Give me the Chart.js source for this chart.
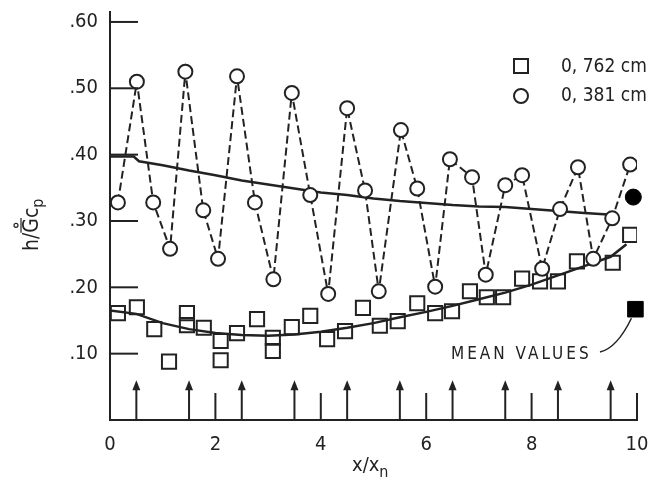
<!DOCTYPE html>
<html>
<head>
<meta charset="utf-8">
<script src="https://cdn.jsdelivr.net/npm/chart.js@4.4.1/dist/chart.umd.min.js"></script>
<style>
  body { margin: 0; background: #fff; }
</style>
</head>
<body>
<canvas id="heatChart" width="652" height="485"></canvas>
<script>
// ---- data ----
var circleX = [0.15, 0.51, 0.82, 1.14, 1.43, 1.77, 2.05, 2.41, 2.75, 3.10, 3.45, 3.80, 4.14, 4.50, 4.84,
               5.10, 5.52, 5.83, 6.17, 6.45, 6.87, 7.13, 7.50, 7.82, 8.20, 8.54, 8.88, 9.17, 9.53, 9.87];
var circleY = [0.328, 0.510, 0.328, 0.258, 0.525, 0.316, 0.243, 0.518, 0.328, 0.212, 0.493, 0.339, 0.190, 0.470, 0.346,
               0.194, 0.437, 0.349, 0.201, 0.393, 0.366, 0.219, 0.354, 0.369, 0.228, 0.318, 0.381, 0.243, 0.304, 0.385];

var squareX = [0.15, 0.51, 0.84, 1.12, 1.46, 1.46, 1.78, 2.10, 2.10, 2.41, 2.79, 3.09, 3.09, 3.45, 3.80, 4.12,
               4.46, 4.80, 5.12, 5.46, 5.83, 6.17, 6.49, 6.83, 7.15, 7.46, 7.82, 8.16, 8.50, 8.86, 9.54, 9.87];
var squareY = [0.161, 0.170, 0.137, 0.088, 0.161, 0.143, 0.139, 0.119, 0.090, 0.131, 0.152, 0.124, 0.104, 0.140, 0.157, 0.122,
               0.134, 0.169, 0.142, 0.149, 0.176, 0.161, 0.164, 0.194, 0.185, 0.185, 0.213, 0.209, 0.209, 0.239, 0.237, 0.279];

// solid mean curves
var circleFitX = [0, 0.45, 0.55, 1, 1.5, 2, 2.5, 3, 3.5, 4, 4.5, 5, 5.5, 6, 6.5, 7, 7.5, 8, 8.5, 9, 9.6];
var circleFitY = [0.397, 0.397, 0.390, 0.384, 0.376, 0.369, 0.361, 0.355, 0.349, 0.343, 0.339, 0.334, 0.330,
                  0.327, 0.324, 0.322, 0.321, 0.318, 0.315, 0.312, 0.309];
var squareFitX = [0, 0.5, 1, 1.5, 2, 2.5, 3, 3.5, 4, 4.5, 5, 5.5, 6, 6.5, 7, 7.5, 8, 8.5, 9, 9.5, 9.8];
var squareFitY = [0.165, 0.160, 0.146, 0.137, 0.131, 0.128, 0.127, 0.129, 0.133, 0.139, 0.146, 0.155, 0.163,
                  0.172, 0.182, 0.192, 0.204, 0.218, 0.232, 0.246, 0.265];

// mean values (filled markers)
var meanCircle = [9.93, 0.336];
var meanSquare = [9.97, 0.167];

var arrowX = [0.5, 1.5, 2.5, 3.5, 4.5, 5.5, 6.5, 7.5, 8.5, 9.5];
var yTicks = [0.1, 0.2, 0.3, 0.4, 0.5, 0.6];
var xTicks = [0, 2, 4, 6, 8, 10];
var legendLabels = ['0, 762 cm', '0, 381 cm'];

function toPoints(xs, ys) {
    return xs.map(function (x, i) { return { x: x, y: ys[i] }; });
}

var INK = '#222';
var FONT = '"DejaVu Sans Condensed", "Liberation Sans Narrow", sans-serif';

// extra drawing: inner ticks, arrows, legend, labels
var decorations = {
    id: 'decorations',
    afterDraw: function (chart) {
        var ctx = chart.ctx;
        var xs = chart.scales.x, ys = chart.scales.y;
        var area = chart.chartArea;
        ctx.save();
        ctx.strokeStyle = INK;
        ctx.fillStyle = INK;
        ctx.lineWidth = 2;

        // y inner ticks
        yTicks.forEach(function (v) {
            var py = ys.getPixelForValue(v);
            ctx.beginPath();
            ctx.moveTo(area.left, py);
            ctx.lineTo(area.left + 28, py);
            ctx.stroke();
        });
        // x inner ticks
        xTicks.slice(1).forEach(function (v) {
            var px = xs.getPixelForValue(v);
            ctx.beginPath();
            ctx.moveTo(px, area.bottom);
            ctx.lineTo(px, area.bottom - 27);
            ctx.stroke();
        });
        // arrows
        arrowX.forEach(function (v) {
            var px = xs.getPixelForValue(v);
            var top = ys.getPixelForValue(0.057);
            ctx.beginPath();
            ctx.moveTo(px, area.bottom);
            ctx.lineTo(px, top + 6);
            ctx.stroke();
            ctx.beginPath();
            ctx.moveTo(px, top - 2);
            ctx.lineTo(px - 4, top + 8);
            ctx.lineTo(px + 4, top + 8);
            ctx.closePath();
            ctx.fill();
        });

        // legend
        ctx.lineWidth = 2;
        ctx.strokeRect(514, 59, 14, 14);
        ctx.beginPath();
        ctx.arc(521, 96, 7, 0, Math.PI * 2);
        ctx.stroke();
        ctx.font = '19px ' + FONT;
        ctx.textBaseline = 'middle';
        ctx.textAlign = 'left';
        ctx.fillText(legendLabels[0], 561, 67);
        ctx.fillText(legendLabels[1], 561, 96);

        // mean values label and leader
        ctx.font = '17px ' + FONT;
        ctx.letterSpacing = '3px';
        ctx.fillText('MEAN VALUES', 451, 355);
        ctx.letterSpacing = '0px';
        var sx = xs.getPixelForValue(meanSquare[0]);
        var sy = ys.getPixelForValue(meanSquare[1]);
        ctx.lineWidth = 1.5;
        ctx.beginPath();
        ctx.moveTo(600, 352);
        ctx.quadraticCurveTo(617, 348, sx - 4, sy + 9);
        ctx.stroke();

        // x axis title
        ctx.font = '20px ' + FONT;
        ctx.textAlign = 'left';
        ctx.textBaseline = 'alphabetic';
        ctx.fillText('x/x', 352, 471);
        var xw = ctx.measureText('x/x').width;
        ctx.font = '16px ' + FONT;
        ctx.fillText('n', 352 + xw, 477);

        // y axis title (rotated)
        ctx.translate(38, 215);
        ctx.rotate(-Math.PI / 2);
        ctx.font = '21px ' + FONT;
        ctx.textAlign = 'left';
        ctx.fillText('h/', -36, 0);
        var hw = ctx.measureText('h/').width;
        ctx.fillText('G', -36 + hw, 0);
        var gw = ctx.measureText('G').width;
        ctx.lineWidth = 1.2;
        ctx.beginPath();
        ctx.moveTo(-36 + hw, -17);
        ctx.lineTo(-36 + hw + gw, -17);
        ctx.stroke();
        ctx.beginPath();
        ctx.arc(-36 + hw + gw / 2, -22, 2, 0, Math.PI * 2);
        ctx.stroke();
        ctx.fillText('c', -36 + hw + gw, 0);
        var cw = ctx.measureText('c').width;
        ctx.font = '16px ' + FONT;
        ctx.fillText('p', -36 + hw + gw + cw, 5);
        ctx.restore();
    }
};

var heatChart = new Chart(document.getElementById('heatChart'), {
    type: 'scatter',
    data: {
        datasets: [{
            label: legendLabels[1],
            data: toPoints(circleX, circleY),
            showLine: true,
            borderColor: INK,
            borderWidth: 2,
            borderDash: [8, 4],
            pointStyle: 'circle',
            pointRadius: 7,
            pointBorderWidth: 2,
            pointBackgroundColor: '#fff',
            pointBorderColor: INK,
            order: 1
        }, {
            label: 'circle mean',
            data: toPoints(circleFitX, circleFitY),
            showLine: true,
            borderColor: INK,
            borderWidth: 2.5,
            pointRadius: 0,
            order: 3
        }, {
            label: legendLabels[0],
            data: toPoints(squareX, squareY),
            pointStyle: 'rect',
            pointRadius: 10,
            pointBorderWidth: 2,
            pointBackgroundColor: 'rgba(255,255,255,0)',
            pointBorderColor: INK,
            order: 4
        }, {
            label: 'square mean',
            data: toPoints(squareFitX, squareFitY),
            showLine: true,
            borderColor: INK,
            borderWidth: 2.5,
            pointRadius: 0,
            order: 2
        }, {
            label: 'mean values',
            data: [{ x: meanCircle[0], y: meanCircle[1] }],
            pointStyle: 'circle',
            pointRadius: 8,
            pointBackgroundColor: '#000',
            pointBorderColor: '#000',
            clip: false,
            order: 0
        }, {
            label: 'mean values sq',
            data: [{ x: meanSquare[0], y: meanSquare[1] }],
            pointStyle: 'rect',
            pointRadius: 11,
            pointBackgroundColor: '#000',
            pointBorderColor: '#000',
            clip: false,
            order: 0
        }]
    },
    options: {
        responsive: false,
        animation: false,
        layout: { padding: { top: 8, right: 15, left: 0, bottom: 0 } },
        plugins: {
            legend: { display: false },
            tooltip: { enabled: false }
        },
        scales: {
            x: {
                type: 'linear',
                min: 0,
                max: 10,
                afterBuildTicks: function (scale) {
                    scale.ticks = xTicks.map(function (v) { return { value: v }; });
                },
                afterFit: function (scale) {
                    scale.height = 65;
                    scale.paddingLeft = 0;
                    scale.paddingRight = 0;
                },
                ticks: {
                    color: INK,
                    padding: 5,
                    font: { size: 20, family: FONT }
                },
                grid: { display: false },
                border: { display: true, color: INK, width: 2 }
            },
            y: {
                min: 0,
                max: 0.615,
                afterBuildTicks: function (scale) {
                    scale.ticks = yTicks.map(function (v) { return { value: v }; });
                },
                afterFit: function (scale) {
                    scale.width = 110;
                    scale.paddingTop = 0;
                    scale.paddingBottom = 0;
                },
                ticks: {
                    color: INK,
                    padding: 4,
                    font: { size: 20, family: FONT },
                    callback: function (v) { return '.' + Math.round(v * 100); }
                },
                grid: { display: false },
                border: { display: true, color: INK, width: 2 }
            }
        }
    },
    plugins: [decorations]
});
</script>
</body>
</html>
